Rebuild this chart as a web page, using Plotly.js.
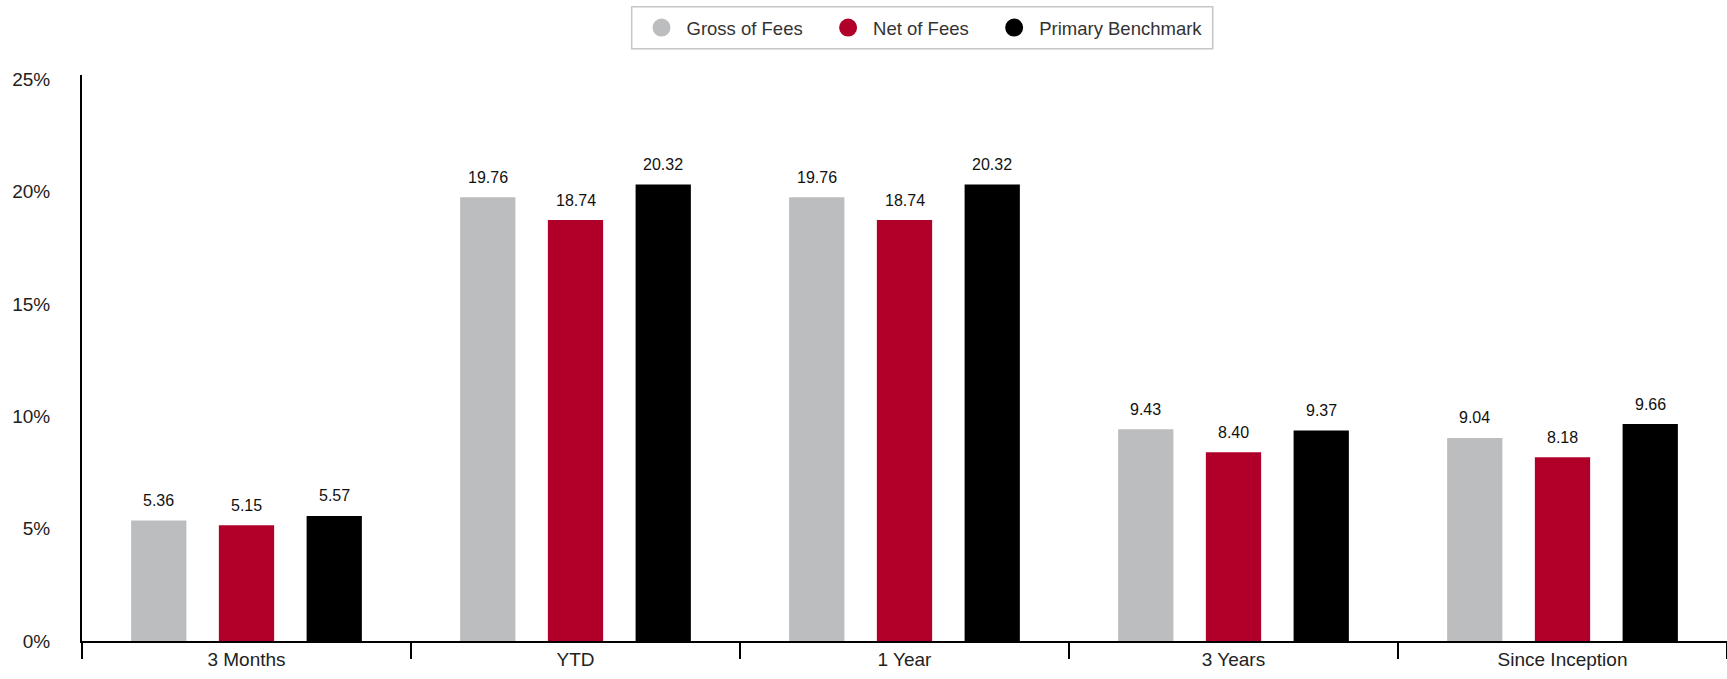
<!DOCTYPE html>
<html>
<head>
<meta charset="utf-8">
<script src="https://cdn.plot.ly/plotly-3.0.1.min.js"></script>
<style>
html,body{margin:0;padding:0;background:#fff;}
#chart{width:1727px;height:679px;}
</style>
</head>
<body>
<div id="chart"></div>
<script>
const categories = ["3 Months", "YTD", "1 Year", "3 Years", "Since Inception"];
const seriesNames = ["Gross of Fees", "Net of Fees", "Primary Benchmark"];
const grossOfFees = [5.36, 19.76, 19.76, 9.43, 9.04];
const netOfFees = [5.15, 18.74, 18.74, 8.40, 8.18];
const primaryBenchmark = [5.57, 20.32, 20.32, 9.37, 9.66];
const tickValues = [0, 5, 10, 15, 20, 25];
const tickLabels = ["0%", "5%", "10%", "15%", "20%", "25%"];

const seriesValues = [grossOfFees, netOfFees, primaryBenchmark];
const colors = ["#bcbdbf", "#b0002a", "#000000"];
const FONT = "Liberation Sans, Arial, sans-serif";

const W = 1727, H = 679;
const margin = {l: 82, r: 0, t: 75, b: 38};
const bargap = 0.2, bargroupgap = 0.37;
const plotW = W - margin.l - margin.r;
const plotH = H - margin.t - margin.b;
const slotPx = plotW / categories.length * (1 - bargap) / seriesValues.length;
const px2x = p => (p - margin.l) / plotW;
const px2y = p => 1 + (margin.t - p) / plotH;

const traces = [];
seriesValues.forEach((vals, i) => {
  traces.push({
    type: "bar",
    x: categories,
    y: vals,
    name: seriesNames[i],
    marker: {color: colors[i]},
    showlegend: false,
    hoverinfo: "x+y"
  });
});
// legend entries with circle markers (spacing padded after the first two entries)
const legendPad = "\u00A0\u00A0\u00A0";
seriesValues.forEach((vals, i) => {
  traces.push({
    type: "scatter",
    mode: "markers",
    x: [null],
    y: [null],
    name: seriesNames[i] + (i < seriesValues.length - 1 ? legendPad : ""),
    marker: {color: colors[i], size: 16, symbol: "circle", line: {color: colors[i], width: 2}},
    showlegend: true,
    hoverinfo: "skip"
  });
});

const annotations = [];
seriesValues.forEach((vals, i) => {
  vals.forEach((v, j) => {
    annotations.push({
      x: categories[j],
      y: v,
      xref: "x",
      yref: "y",
      text: v.toFixed(2),
      showarrow: false,
      xanchor: "center",
      yanchor: "middle",
      xshift: (i - 1) * slotPx,
      yshift: 20,
      font: {family: FONT, size: 16, color: "#111"}
    });
  });
});

const layout = {
  width: W,
  height: H,
  margin: margin,
  paper_bgcolor: "#fff",
  plot_bgcolor: "#fff",
  barmode: "group",
  bargap: bargap,
  bargroupgap: bargroupgap,
  font: {family: FONT, size: 16, color: "#222"},
  showlegend: true,
  legend: {
    orientation: "h",
    x: px2x(636.5),
    xanchor: "left",
    y: px2y(28),
    yanchor: "middle",
    borderwidth: 0,
    bgcolor: "rgba(0,0,0,0)",
    itemwidth: 40,
    font: {family: FONT, size: 18.5, color: "#333"},
    itemclick: false
  },
  shapes: [{
    type: "rect",
    xref: "paper",
    yref: "paper",
    x0: px2x(631.7),
    x1: px2x(1212.7),
    y0: px2y(6.7),
    y1: px2y(48.7),
    line: {color: "#c6c6c6", width: 1.5},
    fillcolor: "rgba(0,0,0,0)",
    layer: "below"
  }],
  xaxis: {
    type: "category",
    categoryorder: "array",
    categoryarray: categories,
    showline: true,
    linecolor: "#000",
    linewidth: 2,
    ticks: "outside",
    tickson: "boundaries",
    ticklen: 16,
    tickwidth: 2,
    tickcolor: "#000",
    showgrid: false,
    zeroline: false,
    tickfont: {family: FONT, size: 19, color: "#222"}
  },
  yaxis: {
    range: [0, 25.2],
    tickvals: tickValues,
    ticktext: tickLabels,
    showline: true,
    linecolor: "#000",
    linewidth: 2,
    ticks: "",
    ticklabelstandoff: 26,
    showgrid: false,
    zeroline: false,
    tickfont: {family: FONT, size: 19, color: "#222"}
  },
  annotations: annotations
};

Plotly.newPlot("chart", traces, layout, {displayModeBar: false, staticPlot: true});
</script>
</body>
</html>
